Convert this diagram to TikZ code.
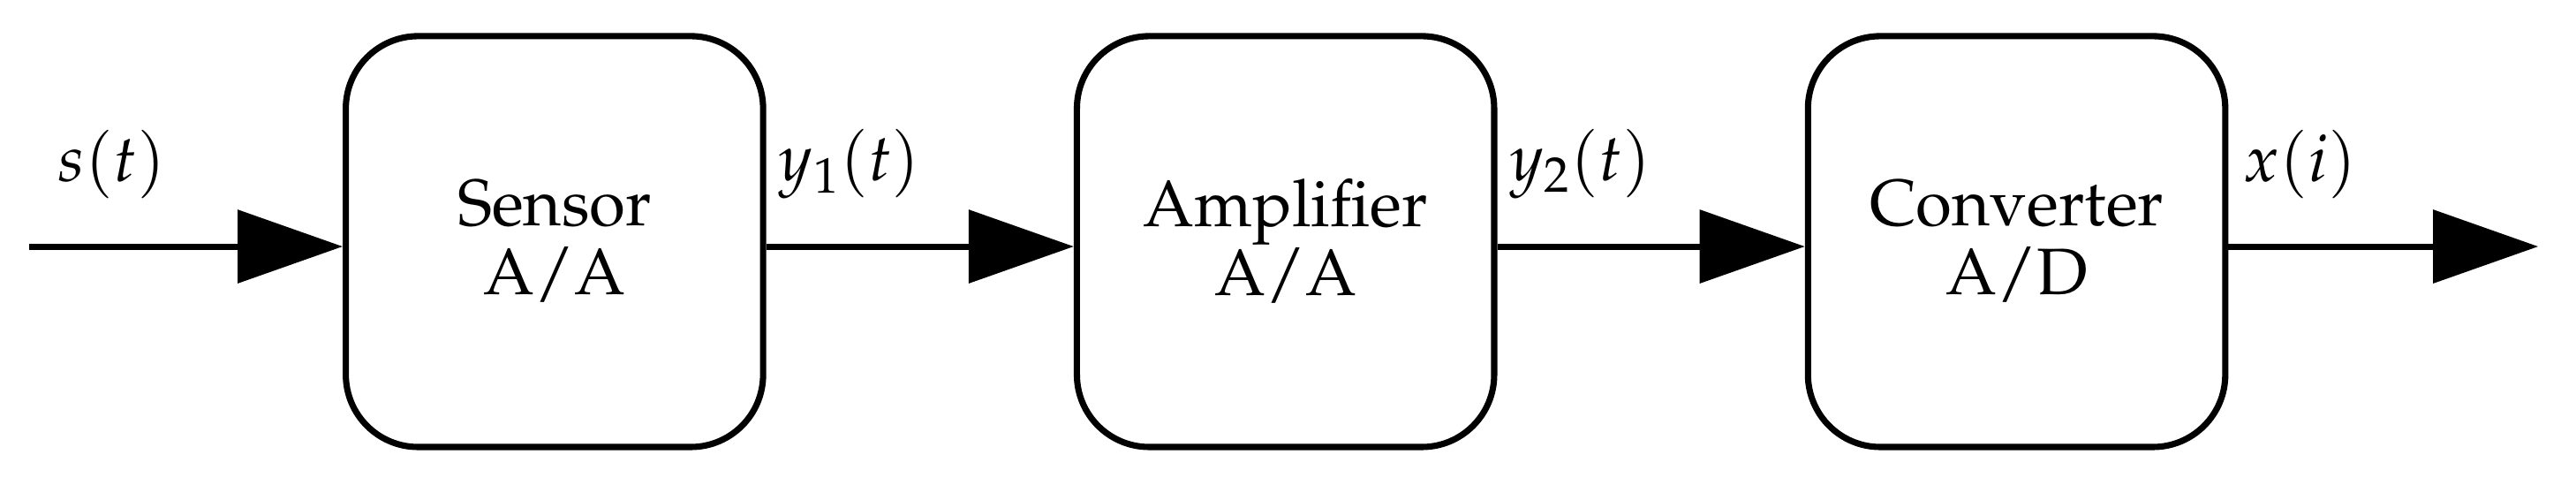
\documentclass[tikz,border=0pt]{standalone}
\usepackage[T1]{fontenc}
\usepackage{mathpazo}
\usetikzlibrary{arrows.meta}
\begin{document}
\begin{tikzpicture}[x=0.5pt,y=-0.5pt,
  blk/.style={draw,line width=1.9pt,rounded corners=22pt,minimum width=127pt,minimum height=125pt,align=center,font=\fontsize{20}{21}\selectfont},
  sig/.style={line width=1.9pt,-{Triangle[length=32pt,width=22pt]}},
  lab/.style={font=\fontsize{20}{21}\selectfont}]
\useasboundingbox (0,0) rectangle (1568,304);
\node[blk] (b1) at (337.5,147) {Sensor\\A/A};
\node[blk] (b2) at (782.5,147) {Amplifier\\A/A};
\node[blk] (b3) at (1227.5,147) {Converter\\A/D};
\coordinate (in) at (18,150);
\coordinate (out) at (1545,150);
\draw[sig] (in) -- (b1.west|-in);
\draw[sig] (b1.east|-in) -- (b2.west|-in);
\draw[sig] (b2.east|-in) -- (b3.west|-in);
\draw[sig] (b3.east|-in) -- (out);
\node[lab] (l1) at (68,100) {$s(t)$};
\node[lab] (l2) at (517,100) {$y_1(t)$};
\node[lab] (l3) at (962,100) {$y_2(t)$};
\node[lab] (l4) at (1400,100) {$x(i)$};
\end{tikzpicture}
\end{document}
